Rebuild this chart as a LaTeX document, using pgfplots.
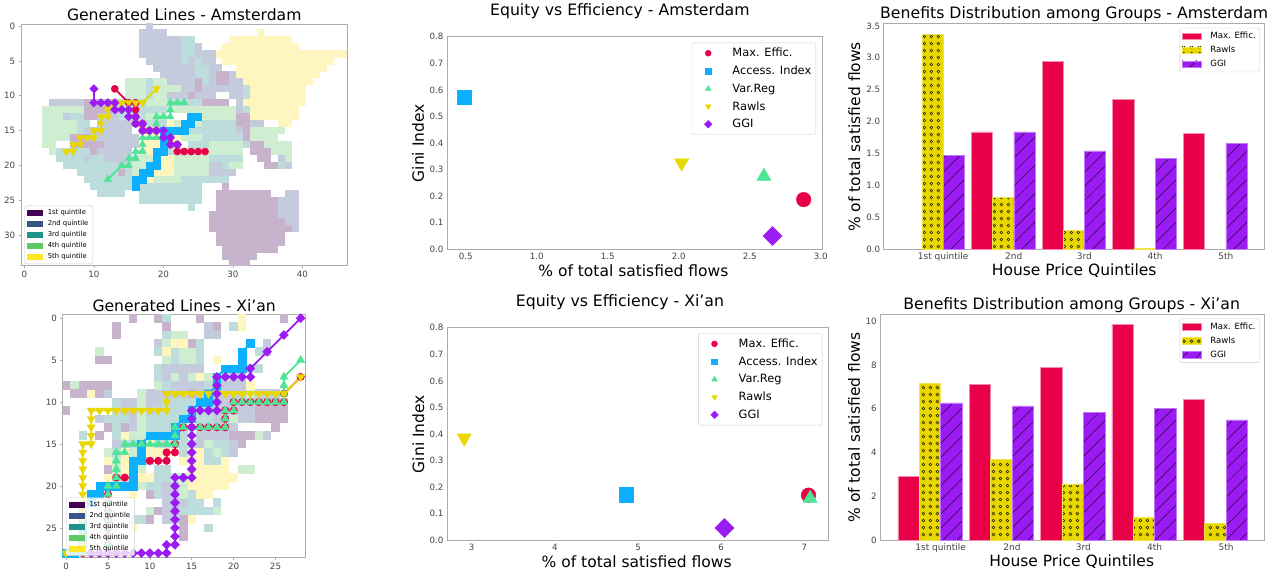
\documentclass[border=0pt]{standalone}
\usepackage{fontspec}
\setmainfont{DejaVu Sans}
\usepackage{pgfplots}
\pgfplotsset{compat=1.18}
\usetikzlibrary{patterns,patterns.meta}
\definecolor{cMax}{HTML}{E80048}
\definecolor{cAcc}{HTML}{0DB0FF}
\definecolor{cVar}{HTML}{4FE596}
\definecolor{cRaw}{HTML}{E8D800}
\definecolor{cGGI}{HTML}{9A1CF2}
\definecolor{qa}{HTML}{440154}
\definecolor{qb}{HTML}{3B528B}
\definecolor{qc}{HTML}{21918C}
\definecolor{qd}{HTML}{5EC962}
\definecolor{qe}{HTML}{FDE725}
\definecolor{pa}{HTML}{C7B3CB}
\definecolor{pb}{HTML}{C4CBDC}
\definecolor{pc}{HTML}{BCDDDC}
\definecolor{pd}{HTML}{CFEDD0}
\definecolor{pe}{HTML}{FEF6BE}
\definecolor{frame}{HTML}{ABABAB}
\definecolor{tk}{HTML}{444444}
\newcommand\fs[1]{\fontsize{#1}{#1}\selectfont}
% one row per run of cells: row, first column, last column
\newcommand\cells[3]{\addplot[forget plot, draw=none, mark=none, error bars/.cd, x dir=both, x explicit, error mark=none, error bar style={line width=#2, draw=#1, solid}] table[row sep=\\, y index=0, x expr={(\thisrowno{1}+\thisrowno{2})/2}, x error expr={(\thisrowno{2}-\thisrowno{1}+1)/2}] {#3};}
\pgfplotsset{
  every axis title shift=0pt,
  base/.style={scale only axis, axis line style={draw=frame, line width=0.9pt},
    tick style={draw=frame, line width=0.6pt}, major tick length=2.2pt, tick align=outside,
    tick label style={font=\fs{8.7}, text=tk}, /pgf/number format/assume math mode=true,
    legend cell align=left, xtick pos=bottom, ytick pos=left},
  heat/.style={base, y dir=reverse,
    legend style={at={(#1,0.006)}, anchor=south west, draw=frame!60, rounded corners=1.5pt, fill=white, fill opacity=0.8, text opacity=1, draw opacity=1, font=\fs{6.8}, inner xsep=2.5pt, inner ysep=1.5pt, row sep=0.4pt, /tikz/every odd column/.style={column sep=3.5pt}}},
  patch/.style={legend image code/.code={\fill[#1, sharp corners, fill opacity=1] (0pt,-2.6pt) rectangle (15pt,2.6pt);}},
  glines/.style={forget plot, line width=1.8pt},
  mk/.style={mark options={solid, fill=#1, draw=#1, line width=0.4pt}},
  mkr/.style={mark options={solid, fill=#1, draw=#1, line width=0.4pt, rotate=180}},
  mkd/.style={mark options={solid, fill=#1, draw=#1, line width=0.4pt, rotate=45}},
  scat/.style={base, major tick length=0pt, ymin=0, ymax=0.8, ytick={0,0.1,...,0.8},
    yticklabel style={/pgf/number format/.cd, fixed, fixed zerofill, precision=1},
    xlabel style={font=\fs{15.5}, text=black}, ylabel style={font=\fs{15.5}, text=black},
    title style={font=\fs{15.7}},
    legend image code/.code={\path (-13.5pt,0pt) (10.5pt,0pt); \draw[##1] plot coordinates {(0pt,0pt)};},
    legend style={draw=frame!60, rounded corners=1.5pt, fill=white, font=\fs{11.4}, inner xsep=2.5pt, inner ysep=3.3pt, row sep=3.7pt, /tikz/every odd column/.style={column sep=11.5pt}}},
  smk/.style={only marks, mark options={solid, fill=#1, draw=#1}},
  bars/.style={base, major tick length=0pt, ymin=0, ybar, bar width=0.3, xtick={0,1,2,3,4},
    xticklabels={1st quintile,2nd,3rd,4th,5th}, xticklabel style={font=\fs{9}},
    xlabel style={font=\fs{15.5}, text=black}, ylabel style={font=\fs{15.5}, text=black},
    title style={font=\fs{15.7}},
    legend style={at={(0.9875,0.98)}, anchor=north east, draw=frame!60, rounded corners=1.5pt, fill=white, font=\fs{8.6}, inner xsep=2pt, inner ysep=2pt, row sep=2pt, /tikz/every odd column/.style={column sep=7pt}}},
  barleg/.style={legend image code/.code={\path[##1, sharp corners] (0pt,-3.2pt) rectangle (19pt,3.2pt);}},
  bMax/.style={fill=cMax, draw=cMax!45!white, line width=0.5pt, bar shift=-0.45, barleg},
  bRaw/.style={fill=cRaw, draw=cRaw!70!white, line width=0.5pt, bar shift=-0.15, barleg,
    postaction={pattern={Dots[distance=7.4pt, radius=1.9pt]}, pattern color=black!80!cRaw},
    postaction={pattern={Dots[distance=7.4pt, radius=0.7pt]}, pattern color=cRaw}},
  bGGI/.style={fill=cGGI, draw=cGGI!60!white, line width=0.5pt, bar shift=0.15, barleg,
    postaction={pattern={Lines[angle=45, distance=10pt, line width=0.5pt]}, pattern color=black!75!cGGI}},
}
\begin{document}
\begin{tikzpicture}[x=1pt,y=1pt]
\useasboundingbox (0pt,0pt) rectangle (1288pt,-578pt);

% ---------- Amsterdam map ----------
\begin{axis}[heat=0.01, at={(21pt,-265.5pt)}, anchor=south west, width=326.5pt, height=241.5pt,
  xmin=-0.5, xmax=46.5, ymin=-0.3, ymax=34.35, xtick={0,10,20,30,40}, ytick={0,5,...,30},
  title={Generated Lines - Amsterdam}, title style={font=\fs{15.6}, at={(0.5,1.037)}, anchor=center}]
\cells{pd}{7.2pt}{8 15 20\\9 15 22\\10 15 20\\11 18 20\\12 3 8\\12 21 30\\13 3 5\\13 18 20\\13 26 30\\13 33 33\\14 3 9\\14 22 25\\15 3 7\\15 18 21\\15 33 37\\16 3 6\\16 19 20\\16 23 25\\16 33 36\\17 3 4\\17 21 22\\17 27 31\\17 35 38\\18 4 4\\18 17 17\\18 22 31\\18 36 38\\19 17 18\\19 22 26\\19 37 38\\20 16 18\\20 22 26\\20 30 31\\21 16 18\\21 22 26\\22 16 17\\22 19 22\\}
\cells{pc}{7.2pt}{2 23 24\\3 23 24\\4 23 24\\5 23 23\\5 25 25\\6 25 26\\7 25 26\\8 26 26\\8 18 18\\9 18 18\\9 32 32\\10 18 18\\10 32 32\\11 14 17\\11 21 25\\12 16 20\\12 32 32\\13 14 17\\13 7 8\\14 8 9\\14 17 20\\14 26 30\\15 8 9\\15 17 17\\15 23 30\\16 26 31\\17 24 26\\17 32 32\\18 5 9\\18 20 21\\19 5 8\\19 10 11\\19 15 16\\19 19 19\\19 27 31\\20 6 13\\20 15 15\\20 29 29\\20 37 37\\21 8 13\\21 15 15\\22 9 15\\22 23 29\\23 10 15\\23 17 25\\24 11 14\\24 17 25\\25 17 25\\26 24 24\\}
\cells{pb}{7.2pt}{0 18 18\\1 17 20\\2 17 22\\3 17 22\\3 25 25\\4 17 22\\4 25 27\\5 18 22\\5 24 24\\5 26 27\\6 19 24\\6 27 28\\7 20 24\\7 27 31\\8 21 24\\8 27 27\\8 30 31\\9 23 24\\9 26 31\\10 21 23\\10 25 27\\10 30 31\\11 4 8\\11 31 31\\12 14 15\\12 31 31\\13 6 6\\13 11 13\\14 11 16\\14 33 34\\15 9 15\\15 31 31\\16 10 16\\17 12 16\\18 11 15\\19 9 9\\19 12 14\\19 37 37\\20 14 14\\20 27 28\\20 38 38\\21 14 14\\21 27 30\\24 38 39\\25 37 39\\26 37 39\\27 37 39\\28 38 39\\29 39 39\\}
\cells{pe}{7.2pt}{1 34 34\\2 30 38\\3 29 39\\4 28 46\\5 29 44\\6 31 43\\7 31 42\\8 32 41\\9 33 40\\10 33 40\\11 32 40\\12 33 39\\13 33 39\\14 37 38\\14 21 21\\16 18 19\\16 22 22\\17 17 20\\18 18 19\\19 20 21\\20 19 21\\21 19 21\\22 18 18\\}
\cells{pa}{7.2pt}{7 28 29\\8 28 29\\8 25 25\\9 25 25\\10 24 24\\11 9 13\\11 26 29\\12 9 13\\13 9 10\\13 31 32\\14 31 32\\15 32 32\\16 7 9\\16 32 32\\17 7 11\\17 33 34\\18 10 10\\18 33 35\\19 34 35\\20 35 36\\21 14 14\\23 29 29\\24 28 35\\25 28 36\\26 28 36\\27 27 36\\28 27 37\\29 27 38\\30 28 37\\31 28 37\\32 29 36\\33 29 33\\34 30 32\\}
\addplot[glines, cMax, mark=*, mark size=3.6pt, mk=cMax] coordinates {(13,9)(15,11)(16,11)(16,12)(16,13)(16,14)(17,14)(17,15)(18,15)(19,15)(20,15)(20,16)(21,16)(21,17)(22,17)(22,18)(23,18)(24,18)(25,18)(26,18)};
\addplot[glines, cAcc, mark=square*, mark size=3.5pt, mk=cAcc] coordinates {(16,23)(16,22)(17,22)(17,21)(18,21)(18,20)(19,20)(19,19)(19,18)(20,18)(20,17)(20,16)(20,15)(21,15)(22,15)(23,15)(23,14)(24,14)(24,13)(25,13)};
\addplot[glines, cVar, mark=triangle*, mark size=4.3pt, mk=cVar] coordinates {(12,22)(14,20)(15,20)(15,19)(16,19)(16,18)(17,18)(17,17)(17,16)(18,16)(19,16)(19,15)(19,14)(19,13)(20,13)(21,13)(21,12)(21,11)(22,11)(23,11)};
\addplot[glines, cRaw, mark=triangle*, mark size=4.3pt, mkr=cRaw] coordinates {(6,18)(7,18)(7,17)(8,17)(8,16)(9,16)(10,16)(10,15)(11,15)(11,14)(11,13)(12,13)(12,12)(13,11)(14,11)(15,11)(16,11)(17,11)(19,9)};
\addplot[glines, cGGI, mark=square*, mark size=3pt, mkd=cGGI] coordinates {(10,9)(10,11)(11,11)(12,11)(13,11)(13,12)(14,12)(15,12)(15,13)(16,13)(16,14)(17,14)(17,15)(18,15)(19,15)(20,15)(20,16)(21,16)(21,17)(22,17)};
\addlegendimage{patch=qa}\addlegendentry{1st quintile}
\addlegendimage{patch=qb}\addlegendentry{2nd quintile}
\addlegendimage{patch=qc}\addlegendentry{3rd quintile}
\addlegendimage{patch=qd}\addlegendentry{4th quintile}
\addlegendimage{patch=qe}\addlegendentry{5th quintile}
\end{axis}

% ---------- Xi'an map ----------
\begin{axis}[heat=0.0136, at={(62.7pt,-557.3pt)}, anchor=south west, width=243pt, height=243.3pt,
  xmin=-0.4, xmax=28.6, ymin=-0.5, ymax=28.5, xtick={0,5,...,25}, ytick={0,5,...,25},
  title={Generated Lines - Xi'an}, title style={font=\fs{15.6}, at={(0.5,1.033)}, anchor=center}]
\cells{pb}{8.6pt}{1 17 17\\2 17 18\\3 11 11\\3 24 24\\4 24 24\\6 12 16\\7 12 12\\7 14 14\\7 18 18\\7 20 21\\8 13 16\\8 18 21\\9 5 5\\9 10 14\\9 16 16\\9 19 21\\9 23 25\\10 7 8\\10 10 11\\10 16 26\\11 7 10\\11 15 15\\11 18 24\\12 4 9\\12 15 15\\12 18 22\\13 8 8\\13 17 20\\14 16 19\\14 24 24\\15 6 6\\15 16 20\\16 20 20\\20 12 12\\21 12 13\\22 12 14\\23 12 12\\24 12 12\\}
\cells{pc}{8.6pt}{0 12 12\\1 20 20\\2 12 12\\3 16 16\\4 11 11\\4 13 13\\4 16 16\\4 23 23\\5 13 13\\5 16 16\\6 11 11\\6 22 23\\7 11 11\\7 19 19\\8 12 12\\8 17 17\\10 6 6\\10 12 15\\11 6 6\\11 11 14\\11 16 17\\12 5 7\\12 10 14\\12 16 17\\13 6 6\\13 10 14\\13 16 16\\14 2 2\\14 6 6\\14 10 14\\15 7 15\\15 18 19\\16 6 6\\16 14 17\\16 19 19\\17 8 10\\17 17 18\\18 11 12\\19 10 12\\20 10 11\\20 13 13\\21 11 11\\21 15 15\\22 15 16\\22 18 18\\23 14 17\\24 8 9\\24 13 13\\25 17 17\\}
\cells{pd}{8.6pt}{2 13 14\\3 12 12\\4 4 4\\4 14 15\\5 12 12\\5 14 15\\7 13 13\\7 15 15\\7 17 17\\8 1 1\\8 11 11\\9 9 9\\9 22 22\\10 9 9\\11 9 9\\12 9 9\\12 20 20\\13 9 9\\14 8 9\\14 23 23\\15 17 17\\16 5 5\\16 8 8\\16 18 18\\17 6 6\\18 6 6\\18 8 9\\18 21 22\\19 6 7\\19 9 9\\19 13 14\\20 9 9\\20 14 14\\21 14 14\\23 10 10\\23 18 18\\}
\cells{pe}{8.6pt}{0 21 21\\1 21 21\\3 13 14\\4 12 12\\5 18 18\\7 16 16\\8 22 22\\9 3 3\\14 7 7\\15 10 10\\16 7 7\\16 10 12\\16 15 16\\17 5 5\\17 7 7\\17 14 16\\17 19 19\\18 7 7\\18 15 19\\19 5 5\\19 8 10\\19 15 20\\20 8 8\\20 15 19\\21 8 8\\21 16 17\\24 15 15\\25 8 8\\}
\cells{pa}{8.6pt}{0 8 8\\0 11 11\\0 16 16\\0 26 26\\1 6 6\\1 12 12\\1 18 18\\2 6 6\\3 15 15\\5 4 5\\8 0 0\\8 2 5\\9 1 2\\9 4 4\\9 15 15\\9 17 18\\10 24 25\\11 0 0\\11 23 26\\12 23 26\\13 5 5\\13 7 7\\13 25 25\\14 4 4\\14 20 22\\15 21 21\\18 5 5\\21 10 10\\23 11 11\\23 13 13\\24 10 10\\24 14 14\\25 14 14\\26 14 14\\}
\addplot[glines, cMax, mark=*, mark size=3.8pt, mk=cMax] coordinates {(28,7)(26,9)(26,10)(25,10)(24,10)(23,10)(22,10)(21,10)(20,10)(20,11)(19,11)(19,12)(19,13)(18,13)(17,13)(16,13)(15,13)(14,13)(13,14)(13,15)(13,16)(12,16)(12,17)(11,17)(10,17)(9,17)(8,17)(8,18)(8,19)(7,19)(6,19)(6,20)(5,20)(5,21)(5,22)(5,23)(5,24)(5,25)(5,26)(5,27)(5,28)(4,28)(3,28)(2,28)(1,28)(0,28)};
\addplot[glines, cAcc, mark=square*, mark size=3.8pt, mk=cAcc] coordinates {(22,3)(21,4)(21,5)(21,6)(20,6)(19,6)(18,7)(18,8)(17,9)(17,10)(16,10)(15,11)(15,12)(14,12)(13,13)(13,14)(12,14)(11,14)(10,14)(9,15)(9,16)(9,17)(8,17)(8,18)(8,19)(8,20)(7,20)(6,20)(5,20)(4,20)(4,21)(3,21)(3,22)(2,23)(2,24)(2,25)(2,26)(2,27)(1,28)(0,28)};
\addplot[glines, cVar, mark=triangle*, mark size=4.7pt, mk=cVar] coordinates {(28,5)(26,7)(26,8)(26,9)(26,10)(25,10)(24,10)(23,10)(22,10)(21,10)(20,10)(20,11)(19,11)(19,12)(19,13)(18,13)(17,13)(16,13)(15,13)(14,13)(13,13)(13,14)(13,15)(12,15)(11,15)(10,15)(9,15)(8,15)(7,15)(7,16)(6,16)(6,17)(6,18)(6,19)(6,20)(5,20)(5,21)(5,22)(5,23)(5,24)(5,25)(5,26)(5,27)(5,28)(4,28)(3,28)(2,28)(1,28)(0,28)};
\addplot[glines, cRaw, mark=triangle*, mark size=4.7pt, mkr=cRaw] coordinates {(28,7)(26,9)(25,9)(24,9)(23,9)(22,9)(21,9)(20,9)(19,9)(18,9)(17,9)(16,9)(15,9)(14,9)(13,9)(12,9)(12,10)(12,11)(11,11)(10,11)(9,11)(8,11)(7,11)(6,11)(5,11)(4,11)(3,11)(3,12)(3,13)(3,14)(3,15)(2,15)(2,16)(2,17)(2,18)(2,19)(2,20)(2,21)(2,22)(2,23)(2,24)(2,25)(2,26)(2,27)(0,28)};
\addplot[glines, cGGI, mark=square*, mark size=3.2pt, mkd=cGGI] coordinates {(28,0)(26,2)(24,4)(22,6)(22,7)(21,7)(20,7)(19,7)(18,7)(18,8)(18,9)(18,10)(18,11)(17,11)(16,11)(15,11)(15,12)(15,13)(15,14)(15,15)(15,16)(15,17)(15,18)(15,19)(14,19)(13,19)(13,20)(13,21)(13,22)(13,23)(13,24)(13,25)(13,26)(13,27)(12,27)(12,28)(11,28)(10,28)(9,28)(8,28)(7,28)(6,28)(5,28)(4,28)(3,28)};
\addlegendimage{patch=qa}\addlegendentry{1st quintile}
\addlegendimage{patch=qb}\addlegendentry{2nd quintile}
\addlegendimage{patch=qc}\addlegendentry{3rd quintile}
\addlegendimage{patch=qd}\addlegendentry{4th quintile}
\addlegendimage{patch=qe}\addlegendentry{5th quintile}
\end{axis}

% ---------- Amsterdam scatter ----------
\begin{axis}[scat, at={(447pt,-249.3pt)}, anchor=south west, width=375pt, height=212.6pt,
  xmin=0.368, xmax=3.009, xtick={0.5,1,...,3},
  xticklabel style={/pgf/number format/.cd, fixed, fixed zerofill, precision=1},
  title={Equity vs Efficiency - Amsterdam}, title style={at={(0.461,1.121)}, anchor=center},
  xlabel={\% of total satisfied flows}, xlabel style={at={(axis description cs:0.497,-0.102)}, anchor=center},
  ylabel={Gini Index}, ylabel style={at={(axis description cs:-0.077,0.499)}, anchor=center},
  legend style={at={(0.984,0.972)}, anchor=north east}]
\addplot[smk=cMax, mark=*, mark size=7.3pt, legend image post style={mark size=3pt}] coordinates {(2.88,0.187)};
\addlegendentry{Max. Effic.}
\addplot[smk=cAcc, mark=square*, mark size=7.3pt, legend image post style={mark size=2.9pt}] coordinates {(0.49,0.572)};
\addlegendentry{Access. Index}
\addplot[smk=cVar, mark=triangle*, mark size=8.2pt, legend image post style={mark size=3.3pt}] coordinates {(2.6,0.275)};
\addlegendentry{Var.Reg}
\addplot[only marks, mark=triangle*, mark size=8.2pt, mark options={solid, fill=cRaw, draw=cRaw, rotate=180}, legend image post style={mark size=3.3pt}] coordinates {(2.02,0.325)};
\addlegendentry{Rawls}
\addplot[only marks, mark=square*, mark size=6.8pt, mark options={solid, fill=cGGI, draw=cGGI, rotate=45}, legend image post style={mark size=2.7pt}] coordinates {(2.66,0.05)};
\addlegendentry{GGI}
\end{axis}

% ---------- Xi'an scatter ----------
\begin{axis}[scat, at={(447pt,-540.3pt)}, anchor=south west, width=381.7pt, height=212.6pt,
  xmin=2.703, xmax=7.293, xtick={3,4,5,6,7},
  title={Equity vs Efficiency - Xi'an}, title style={at={(0.453,1.121)}, anchor=center},
  xlabel={\% of total satisfied flows}, xlabel style={at={(axis description cs:0.497,-0.1)}, anchor=center},
  ylabel={Gini Index}, ylabel style={at={(axis description cs:-0.075,0.5)}, anchor=center},
  legend style={at={(0.9832,0.9737)}, anchor=north east}]
\addplot[smk=cMax, mark=*, mark size=7.3pt, legend image post style={mark size=3pt}] coordinates {(7.05,0.17)};
\addlegendentry{Max. Effic.}
\addplot[smk=cAcc, mark=square*, mark size=7.3pt, legend image post style={mark size=2.9pt}] coordinates {(4.86,0.172)};
\addlegendentry{Access. Index}
\addplot[smk=cVar, mark=triangle*, mark size=8.2pt, legend image post style={mark size=3.3pt}] coordinates {(7.07,0.158)};
\addlegendentry{Var.Reg}
\addplot[only marks, mark=triangle*, mark size=8.2pt, mark options={solid, fill=cRaw, draw=cRaw, rotate=180}, legend image post style={mark size=3.3pt}] coordinates {(2.91,0.385)};
\addlegendentry{Rawls}
\addplot[only marks, mark=square*, mark size=6.8pt, mark options={solid, fill=cGGI, draw=cGGI, rotate=45}, legend image post style={mark size=2.7pt}] coordinates {(6.04,0.046)};
\addlegendentry{GGI}
\end{axis}

% ---------- Amsterdam bars ----------
\begin{axis}[bars, at={(883.7pt,-249.3pt)}, anchor=south west, width=381pt, height=226pt,
  xmin=-0.84, xmax=4.55, ymax=3.54, ytick={0,0.5,...,3.5},
  yticklabel style={/pgf/number format/.cd, fixed, fixed zerofill, precision=1},
  title={Benefits Distribution among Groups - Amsterdam}, title style={at={(0.5,1.041)}, anchor=center},
  xlabel={House Price Quintiles}, xlabel style={at={(axis description cs:0.5,-0.096)}, anchor=center},
  ylabel={\% of total satisfied flows}, ylabel style={at={(axis description cs:-0.077,0.497)}, anchor=center}]
\addplot[bMax] coordinates {(1,1.84)(2,2.94)(3,2.35)(4,1.82)};
\addlegendentry{Max. Effic.}
\addplot[bRaw] coordinates {(0,3.37)(1,0.81)(2,0.30)(3,0.02)};
\addlegendentry{Rawls}
\addplot[bGGI] coordinates {(0,1.47)(1,1.84)(2,1.54)(3,1.43)(4,1.66)};
\addlegendentry{GGI}
\end{axis}

% ---------- Xi'an bars ----------
\begin{axis}[bars, at={(880.3pt,-540.3pt)}, anchor=south west, width=384.4pt, height=226.3pt,
  xmin=-0.846, xmax=4.542, ymax=10.32, ytick={0,2,...,10},
  title={Benefits Distribution among Groups - Xi'an}, title style={at={(0.498,1.037)}, anchor=center},
  xlabel={House Price Quintiles}, xlabel style={at={(axis description cs:0.498,-0.096)}, anchor=center},
  ylabel={\% of total satisfied flows}, ylabel style={at={(axis description cs:-0.0684,0.498)}, anchor=center}]
\addplot[bMax] coordinates {(0,2.9)(1,7.1)(2,7.87)(3,9.85)(4,6.42)};
\addlegendentry{Max. Effic.}
\addplot[bRaw] coordinates {(0,7.17)(1,3.7)(2,2.57)(3,1.05)(4,0.77)};
\addlegendentry{Rawls}
\addplot[bGGI] coordinates {(0,6.27)(1,6.13)(2,5.84)(3,6.0)(4,5.49)};
\addlegendentry{GGI}
\end{axis}
\end{tikzpicture}
\end{document}
